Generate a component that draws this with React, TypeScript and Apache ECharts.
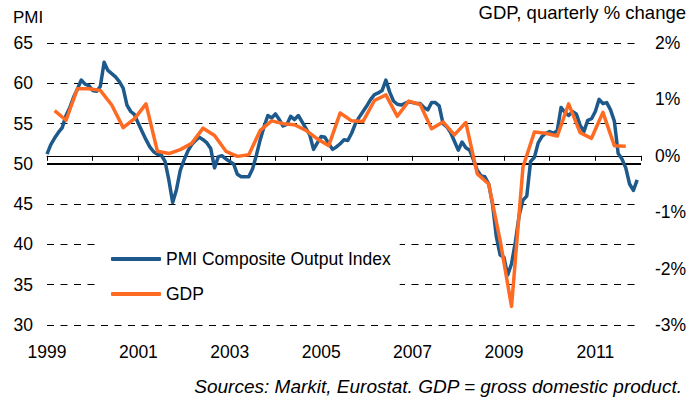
import React, { useEffect, useRef } from "react";
import * as echarts from "echarts";

const FONT = '"Liberation Sans", Arial, Helvetica, sans-serif';

// Monthly PMI Composite Output Index, Jan 1999 .. Dec 2011
const pmiStartYear = 1999;
const pmiValues = [
  51.2, 52.4, 53.2, 53.9, 54.5, 56.0, 57.0, 58.3, 59.3, 60.4, 59.9, 59.7,
  59.1, 59.0, 59.6, 62.6, 61.6, 61.2, 60.8, 60.2, 59.4, 57.3, 56.5, 56.1,
  55.0, 54.0, 53.0, 52.1, 51.5, 51.2, 51.1, 50.3, 48.0, 45.2, 46.8, 49.2,
  50.5, 51.6, 52.4, 52.9, 53.3, 53.0, 52.6, 51.9, 49.5, 50.9, 51.0, 50.6,
  50.3, 50.0, 48.7, 48.4, 48.4, 48.4, 49.4, 51.1, 53.0, 54.6, 56.0, 55.7,
  56.2, 55.5, 54.7, 54.9, 55.9, 55.5, 56.0, 55.2, 54.4, 53.6, 51.8, 52.6,
  53.4, 53.3, 52.5, 51.8, 52.1, 52.5, 53.0, 52.9, 53.8, 55.0, 55.8, 56.5,
  57.2, 58.0, 58.6, 58.8, 59.1, 60.4, 58.9, 57.8, 57.4, 57.3, 57.5, 57.7,
  57.6, 57.5, 57.5, 57.0, 56.7, 57.6, 57.6, 57.2, 55.0, 54.6, 53.9, 52.8,
  51.7, 52.7, 52.0, 51.7, 50.5, 49.2, 48.5, 48.4, 47.5, 45.0, 41.0, 38.7,
  38.4, 36.2, 37.6, 40.3, 43.6, 45.5, 46.0, 50.3, 50.8, 52.6, 53.4, 53.8,
  54.0, 53.8, 54.1, 57.0, 56.4, 56.0, 56.5, 56.2, 54.8, 54.0, 55.4, 55.6,
  56.5, 58.0, 57.5, 57.6, 56.7, 55.3, 51.3, 50.6, 49.5, 47.5, 46.7, 48.0,
];

// Quarterly GDP % change, Q1 1999 .. Q3 2011
const gdpStartYear = 1999;
const gdpValues = [
  0.8, 0.63, 1.19, 1.19, 1.16, 0.9, 0.5, 0.66, 0.92, 0.08, 0.04, 0.11,
  0.22, 0.49, 0.36, 0.08, -0.01, 0.02, 0.45, 0.62, 0.57, 0.55, 0.45, 0.3,
  0.18, 0.76, 0.62, 0.61, 0.98, 1.08, 0.7, 0.97, 0.91, 0.48, 0.6, 0.37,
  0.59, -0.32, -0.5, -1.5, -2.67, -0.2, 0.42, 0.4, 0.35, 0.92, 0.41, 0.31,
  0.77, 0.18, 0.17,
];

const xMinYear = 1999;
const xMaxYear = 2012;
const pmiAxis = { min: 30, max: 65, step: 5, reference: 50 };
const gdpAxis = { min: -3, max: 2, step: 1 };

const seriesNames = ["PMI Composite Output Index", "GDP"];
const axisTitles = { left: "PMI", right: "GDP, quarterly % change" };
const sourceNote = "Sources: Markit, Eurostat. GDP = gross domestic product.";

const BLUE = "#1D5A8B";
const ORANGE = "#FF6B22";

export default function App() {
  const ref = useRef<HTMLDivElement>(null);

  useEffect(() => {
    if (!ref.current) return;
    const chart = echarts.init(ref.current, undefined, { renderer: "svg" });

    const pmiData = pmiValues.map((v, i) => [pmiStartYear + i / 12, v]);
    const gdpData = gdpValues.map((v, i) => [gdpStartYear + (3 * i + 2) / 12, v]);

    chart.setOption({
      animation: false,
      backgroundColor: "#fff",
      textStyle: { fontFamily: FONT },
      grid: { left: 47, right: 58, top: 43, bottom: 76, containLabel: false },
      xAxis: {
        type: "value",
        min: xMinYear,
        max: xMaxYear,
        interval: 1,
        axisLine: { show: true, lineStyle: { color: "#000", width: 1 } },
        axisTick: { show: true, length: 5, inside: false, lineStyle: { color: "#000" } },
        axisLabel: {
          color: "#000",
          fontSize: 17.5,
          lineHeight: 18,
          fontFamily: FONT,
          margin: 18,
          showMinLabel: true,
          showMaxLabel: true,
          formatter: (v: number) => (Math.round(v) % 2 === 1 ? String(Math.round(v)) : ""),
        },
        splitLine: { show: false },
      },
      yAxis: [
        {
          type: "value",
          min: pmiAxis.min,
          max: pmiAxis.max,
          interval: pmiAxis.step,
          position: "left",
          axisLine: { show: false },
          axisTick: { show: false },
          axisLabel: { color: "#000", fontSize: 17.5, fontFamily: FONT, margin: 14 },
          splitLine: {
            show: true,
            lineStyle: { color: "#000", width: 1, type: [7, 6.5] },
          },
        },
        {
          type: "value",
          min: gdpAxis.min,
          max: gdpAxis.max,
          interval: gdpAxis.step,
          position: "right",
          axisLine: { show: false },
          axisTick: { show: false },
          axisLabel: {
            color: "#000",
            fontSize: 17.5,
            fontFamily: FONT,
            margin: 14,
            formatter: (v: number) => `${v}%`,
          },
          splitLine: { show: false },
        },
      ],
      legend: {
        orient: "vertical",
        left: 95,
        top: 230,
        padding: [19, 9, 1, 16],
        itemGap: 15,
        itemWidth: 50,
        itemHeight: 4,
        icon: "roundRect",
        backgroundColor: "#fff",
        textStyle: { color: "#000", fontSize: 17.5, lineHeight: 20, fontFamily: FONT },
        data: seriesNames,
      },
      graphic: [
        {
          type: "text",
          x: 13,
          y: 17,
          style: {
            text: axisTitles.left,
            fill: "#000",
            fontSize: 17,
            fontFamily: FONT,
            align: "left",
            verticalAlign: "middle",
          },
        },
        {
          type: "text",
          x: 686,
          y: 12,
          style: {
            text: axisTitles.right,
            fill: "#000",
            fontSize: 18.5,
            fontFamily: FONT,
            align: "right",
            verticalAlign: "middle",
          },
        },
        {
          type: "text",
          x: 682,
          y: 386,
          style: {
            text: sourceNote,
            fill: "#000",
            fontSize: 19,
            fontStyle: "italic",
            fontFamily: FONT,
            align: "right",
            verticalAlign: "middle",
          },
        },
      ],
      series: [
        {
          name: seriesNames[0],
          type: "line",
          yAxisIndex: 0,
          data: pmiData,
          symbol: "none",
          lineStyle: { color: BLUE, width: 3.5, join: "round" },
          itemStyle: { color: BLUE },
          markLine: {
            silent: true,
            symbol: "none",
            z: 1,
            label: { show: false },
            lineStyle: { color: "#000", type: "solid", width: 2 },
            data: [{ yAxis: pmiAxis.reference }],
          },
        },
        {
          name: seriesNames[1],
          type: "line",
          yAxisIndex: 1,
          data: gdpData,
          symbol: "none",
          lineStyle: { color: ORANGE, width: 3.5, join: "round" },
          itemStyle: { color: ORANGE },
        },
      ],
    });

    return () => chart.dispose();
  }, []);

  return (
    <div
      ref={ref}
      style={{ position: "absolute", left: 0, top: 0, width: 699, height: 401 }}
    />
  );
}
